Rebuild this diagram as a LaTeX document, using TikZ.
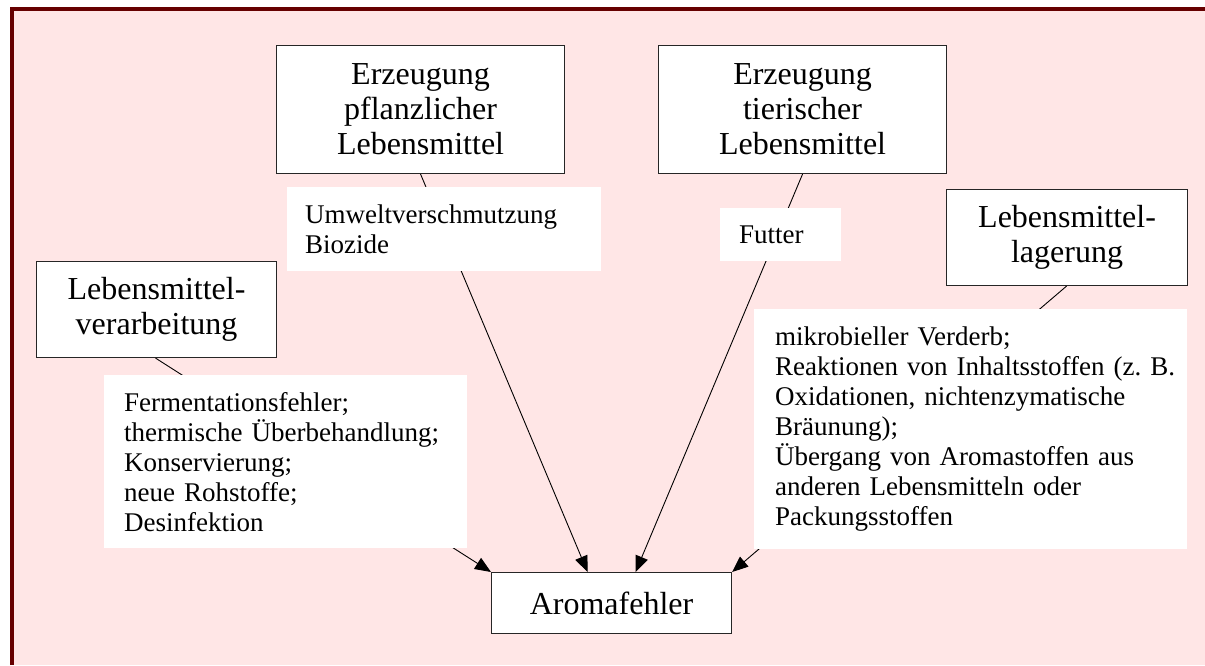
\documentclass[tikz,border=0pt]{standalone}
\usepackage{fontspec}
\setmainfont{Liberation Serif}
\usetikzlibrary{arrows.meta,calc}
\definecolor{bgpink}{HTML}{FFE6E6}
\definecolor{framered}{HTML}{660000}
\newcommand\oneln[1]{\mbox{#1}}
\frenchspacing
\tikzset{
  bigbox/.style={draw=black!85, line width=1.1pt, fill=white, align=center, inner sep=0pt,
    anchor=north west, font=\fontsize{32}{35}\selectfont},
  labelbox/.style={fill=white, align=left, inner ysep=0pt, anchor=north west,
    font=\fontsize{27}{30}\selectfont\frenchspacing},
  edge/.style={draw=black, line width=0.9pt, -{Triangle[length=16pt,width=13pt]}}
}
\begin{document}
\begin{tikzpicture}[x=1pt,y=-1pt]
\useasboundingbox (0,0) rectangle (1205,665);
% background and frame
\fill[bgpink] (12,9) rectangle (1205,665);
\draw[framered, line width=4pt, line join=miter] (12,665) -- (12,9) -- (1205,9);

% main boxes
\node[bigbox, minimum width=288pt, minimum height=128pt] (pflanz) at (276,45)
  {Erzeugung\\pflanzlicher\\Lebensmittel};
\node[bigbox, minimum width=288pt, minimum height=128pt] (tier) at (658,45)
  {Erzeugung\\tierischer\\Lebensmittel};
\node[bigbox, minimum width=240pt, minimum height=96pt] (verarb) at (36,261)
  {Lebensmittel-\\verarbeitung};
\node[bigbox, minimum width=241pt, minimum height=96pt] (lager) at (946,189)
  {Lebensmittel-\\lagerung};
\node[bigbox, minimum width=240pt, minimum height=61pt] (aroma) at (491,572)
  {Aromafehler};

% connectors
\draw[edge] ([xshift=-1pt]verarb.south) -- (aroma.north west);
\draw[edge] (pflanz.south) -- ([xshift=-24pt]aroma.north);
\draw[edge] (tier.south) -- ([xshift=24pt]aroma.north);
\draw[edge] ([xshift=-0.5pt]lager.south) -- (aroma.north east);

% connector labels
\node[labelbox, text width=278pt, inner xsep=18pt, minimum height=84pt] (lbpflanz) at (287,187)
  {\oneln{Umweltverschmutzung}\\\oneln{Biozide}};
\node[labelbox, text width=83pt, inner xsep=19pt, minimum height=53pt] (lbtier) at (720,208)
  {\oneln{Futter}};
\node[labelbox, text width=323pt, inner xsep=20pt, minimum height=173pt] (lbverarb) at (104,375)
  {\oneln{Fermentationsfehler;}\\\oneln{thermische Überbehandlung;}\\\oneln{Konservierung;}\\\oneln{neue Rohstoffe;}\\\oneln{Desinfektion}};
\node[labelbox, text width=391pt, inner xsep=21pt, minimum height=240pt] (lblager) at (754,309)
  {\oneln{mikrobieller Verderb;}\\\oneln{Reaktionen von Inhaltsstoffen (z. B.}\\\oneln{Oxidationen, nichtenzymatische}\\\oneln{Bräunung);}\\\oneln{Übergang von Aromastoffen aus}\\\oneln{anderen Lebensmitteln oder}\\\oneln{Packungsstoffen}};
\end{tikzpicture}
\end{document}
